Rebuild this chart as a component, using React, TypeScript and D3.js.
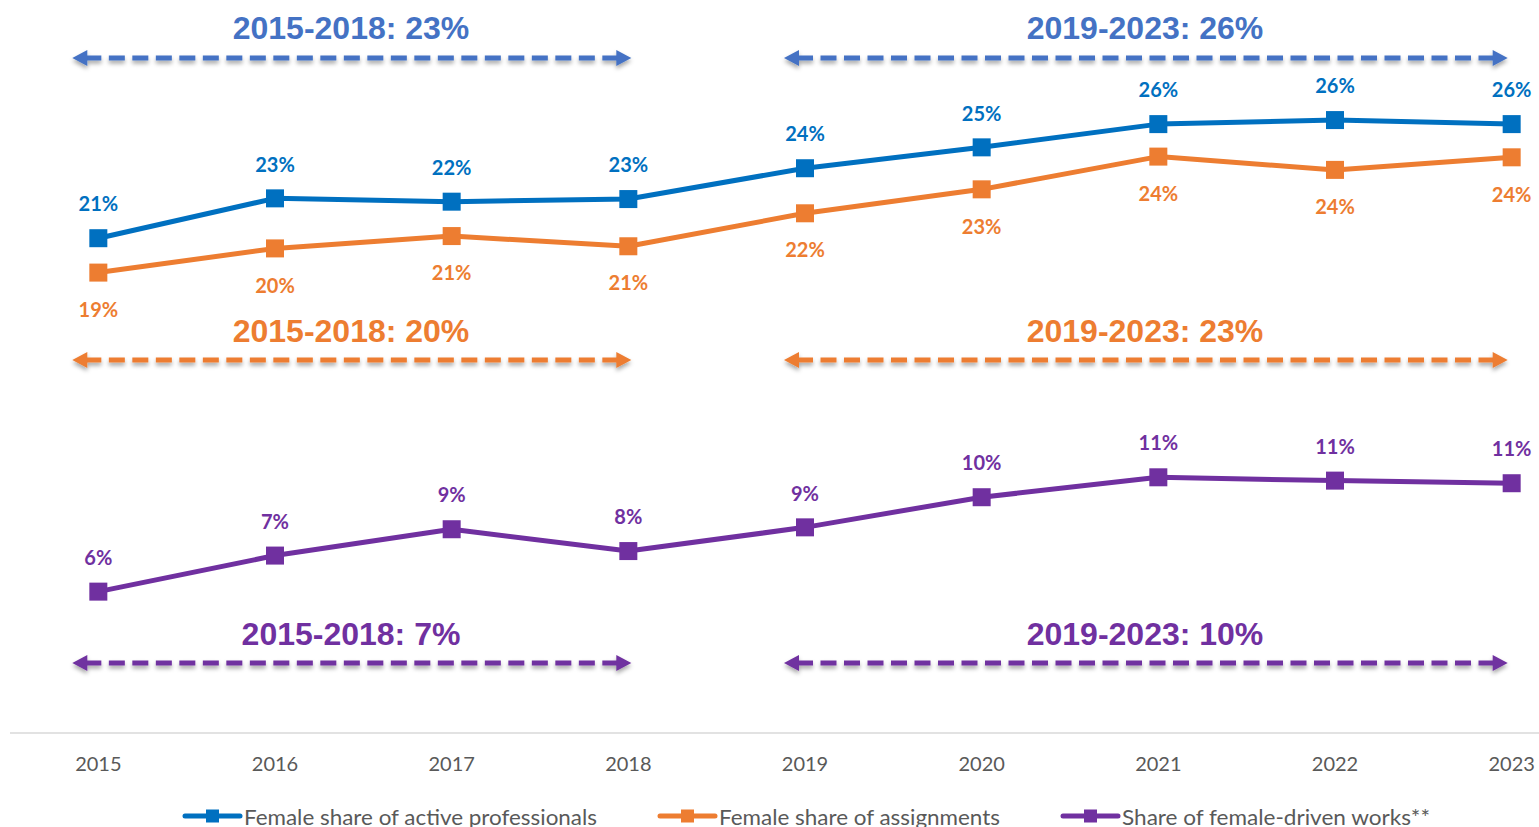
import React from "react";
import * as d3 from "d3";

// ---------- data ----------
const years = ["2015", "2016", "2017", "2018", "2019", "2020", "2021", "2022", "2023"];
const activeProfessionals = [20.86, 22.54, 22.4, 22.51, 23.81, 24.69, 25.67, 25.84, 25.67];
const assignments = [19.41, 20.43, 20.95, 20.52, 21.91, 22.92, 24.3, 23.74, 24.27];
const femaleDrivenWorks = [5.96, 7.48, 8.59, 7.67, 8.67, 9.94, 10.78, 10.64, 10.53];
const seriesNames = [
  "Female share of active professionals",
  "Female share of assignments",
  "Share of female-driven works**",
];
const periods = [
  { label: "2015-2018", from: "2015", to: "2018" },
  { label: "2019-2023", from: "2019", to: "2023" },
];
const activeAverages = [23, 26];
const assignmentAverages = [20, 23];
const worksAverages = [7, 10];

// ---------- layout ----------
const W = 1539;
const H = 827;
const AXIS_Y = 733;
const FONT_LABEL = "Lato, 'Open Sans', sans-serif";
const FONT_ANN = "'Liberation Sans', Arial, sans-serif";

const x = d3.scalePoint<string>().domain(years).range([10, 1600]).padding(0.5);
const y = d3.scaleLinear().domain([0, 30]).range([AXIS_Y, 21.4]);

const series = [
  { name: seriesNames[0], values: activeProfessionals, color: "#0070C0", labelDy: -34, annColor: "#4472C4", averages: activeAverages, annTextY: 27, annArrowY: 58 },
  { name: seriesNames[1], values: assignments, color: "#ED7D31", labelDy: 37, annColor: "#ED7D31", averages: assignmentAverages, annTextY: 330, annArrowY: 360 },
  { name: seriesNames[2], values: femaleDrivenWorks, color: "#7030A0", labelDy: -34, annColor: "#7030A0", averages: worksAverages, annTextY: 633, annArrowY: 663 },
];

// arrow end offsets relative to the period's first/last category
const arrowOffsets = [
  { left: -26, right: 3 },
  { left: -21, right: -4 },
];
const legendStarts = [185, 660, 1063];
const legendTextWidths = [353, 281, 308];

function Arrow({ x1, x2, yy, color }: { x1: number; x2: number; yy: number; color: string }) {
  const head = 15;
  const half = 8;
  return (
    <g filter="url(#arrowShadow)">
      <line x1={x1 + head - 2} x2={x2 - head + 2} y1={yy} y2={yy} stroke={color} strokeWidth={5} strokeDasharray="16 7.5" />
      <polygon points={`${x1},${yy} ${x1 + head},${yy - half} ${x1 + head},${yy + half}`} fill={color} />
      <polygon points={`${x2},${yy} ${x2 - head},${yy - half} ${x2 - head},${yy + half}`} fill={color} />
    </g>
  );
}

export default function App() {
  const line = d3
    .line<number>()
    .x((_, i) => x(years[i]) as number)
    .y((d) => y(d));
  const mk = 18;

  return (
    <svg width={W} height={H} style={{ position: "absolute", left: 0, top: 0, background: "#fff" }}>
      <defs>
        <filter id="arrowShadow" x="-5%" y="-200%" width="110%" height="500%">
          <feDropShadow dx="0" dy="3" stdDeviation="2" floodColor="#000" floodOpacity="0.35" />
        </filter>
      </defs>
      <rect width={W} height={H} fill="#fff" />

      {/* axis */}
      <line x1={10} x2={W} y1={AXIS_Y} y2={AXIS_Y} stroke="#d9d9d9" strokeWidth={1.5} />
      {years.map((yr) => (
        <text key={yr} x={x(yr)} y={AXIS_Y + 37.5} textAnchor="middle" fontFamily={FONT_LABEL} fontSize={20} fill="#595959">
          {yr}
        </text>
      ))}

      {/* annotations */}
      {series.map((s, si) =>
        periods.map((p, pi) => {
          const xa = (x(p.from) as number) + arrowOffsets[pi].left;
          const xb = (x(p.to) as number) + arrowOffsets[pi].right;
          const cx = pi === 0 ? 351 : 1145;
          return (
            <g key={`ann-${si}-${pi}`}>
              <text x={cx} y={s.annTextY + 11.5} textAnchor="middle" fontFamily={FONT_ANN} fontWeight="bold" fontSize={32} fill={s.annColor}>
                {`${p.label}: ${s.averages[pi]}%`}
              </text>
              <Arrow x1={xa} x2={xb} yy={s.annArrowY} color={s.annColor} />
            </g>
          );
        })
      )}

      {/* series */}
      {series.map((s, si) => (
        <g key={`s-${si}`}>
          <path d={line(s.values) as string} fill="none" stroke={s.color} strokeWidth={5} strokeLinejoin="round" />
          {s.values.map((v, i) => (
            <rect key={i} x={(x(years[i]) as number) - mk / 2} y={y(v) - mk / 2} width={mk} height={mk} fill={s.color} />
          ))}
          {s.values.map((v, i) => (
            <text
              key={`l${i}`}
              x={x(years[i])}
              y={y(v) + s.labelDy}
              dy="0.36em"
              textAnchor="middle"
              fontFamily={FONT_LABEL}
              fontWeight="bold"
              fontSize={20}
              fill={s.color}
            >
              {`${Math.round(v)}%`}
            </text>
          ))}
        </g>
      ))}

      {/* legend */}
      {series.map((s, si) => {
        const lx = legendStarts[si];
        return (
          <g key={`lg-${si}`}>
            <line x1={lx} x2={lx + 55} y1={816} y2={816} stroke={s.color} strokeWidth={5} strokeLinecap="round" />
            <rect x={lx + 27.5 - 6.5} y={816 - 6.5} width={13} height={13} fill={s.color} />
            <text
              x={lx + 59}
              y={824.5}
              fontFamily={FONT_LABEL}
              fontSize={21}
              fill="#595959"
              textLength={legendTextWidths[si]}
              lengthAdjust="spacingAndGlyphs"
            >
              {s.name}
            </text>
          </g>
        );
      })}
    </svg>
  );
}
